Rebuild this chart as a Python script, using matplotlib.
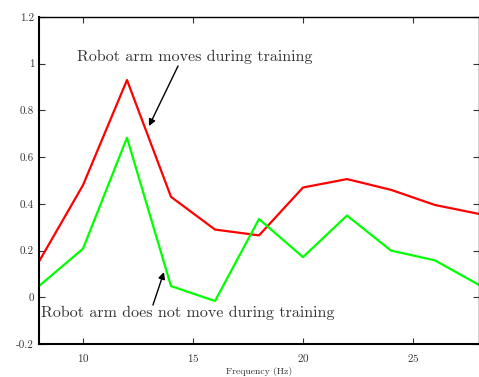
import numpy as np
import matplotlib
matplotlib.use("Agg")
import matplotlib.pyplot as plt

plt.rcParams['font.family'] = 'cmr10'
plt.rcParams['axes.unicode_minus'] = False
plt.rcParams['axes.formatter.use_mathtext'] = True

freq = [8, 10, 12, 14, 16, 18, 20, 22, 24, 26, 28]
moves = [0.153, 0.48, 0.93, 0.43, 0.29, 0.265, 0.47, 0.506, 0.46, 0.395, 0.357]
still = [0.048, 0.208, 0.683, 0.048, -0.016, 0.335, 0.172, 0.35, 0.20, 0.158, 0.053]

fig = plt.figure(figsize=(4.79, 3.77), dpi=100)
ax = fig.add_axes([0.0814, 0.0875, 0.9186, 0.8675])

ax.plot(freq, moves, color=(1, 0, 0), lw=1.6)
ax.plot(freq, still, color=(0, 1, 0), lw=1.6)

ax.set_xlim(8, 28)
ax.set_ylim(-0.2, 1.2)
ax.set_xticks([10, 15, 20, 25])
ax.set_yticks([-0.2, 0, 0.2, 0.4, 0.6, 0.8, 1.0, 1.2])
ax.set_yticklabels(['-0.2', '0', '0.2', '0.4', '0.6', '0.8', '1', '1.2'])
ax.tick_params(direction='in', top=True, right=True, length=4, labelsize=8, colors='#333333')
ax.tick_params(axis='x', pad=6)
for s in ax.spines.values():
    s.set_linewidth(1.0)
ax.spines['left'].set_linewidth(1.5)
ax.spines['bottom'].set_linewidth(1.5)

ax.set_xlabel('Frequency (Hz)', fontsize=7, labelpad=2, color='#333333')

# labels and their arrows
ax.text(15.1, 1.03, 'Robot arm moves during training', ha='center', va='center',
        fontsize=11.5, color='#333333')
ax.annotate('', xy=(13.0, 0.733), xytext=(14.32, 0.99),
            arrowprops=dict(arrowstyle='-|>', color='black', lw=1, shrinkA=0, shrinkB=0,
                            mutation_scale=10))
ax.text(14.77, -0.068, 'Robot arm does not move during training', ha='center', va='center',
        fontsize=11.5, color='#333333')
ax.annotate('', xy=(13.68, 0.108), xytext=(13.18, -0.033),
            arrowprops=dict(arrowstyle='-|>', color='black', lw=1, shrinkA=0, shrinkB=0,
                            mutation_scale=10))

fig.savefig('out.png', dpi=100)
